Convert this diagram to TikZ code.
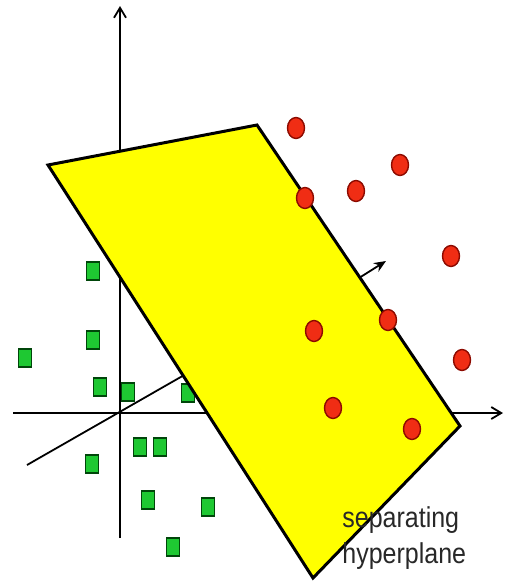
\documentclass[tikz,border=0pt]{standalone}
\usepackage{fontspec}
\setmainfont{Liberation Sans}
\usepackage{graphicx}
\usepackage{tikz}
\usetikzlibrary{arrows.meta, shapes.geometric}

\definecolor{planeyellow}{RGB}{255,255,0}
\definecolor{dotred}{RGB}{240,45,20}
\definecolor{dotrim}{RGB}{140,10,0}
\definecolor{boxgreen}{RGB}{30,200,50}
\definecolor{boxrim}{RGB}{0,70,10}
\definecolor{labelgrey}{RGB}{40,40,40}

\newcommand{\tallword}[1]{\scalebox{1}[1.15]{#1}}

\begin{document}
\begin{tikzpicture}[
  x=0.5pt, y=-0.5pt,
  axis/.style    = {line width=0.9pt, -{Straight Barb[length=5pt, width=6pt]}},
  plane/.style   = {fill=planeyellow, draw=black, line width=1.5pt, line join=miter},
  reddot/.style  = {ellipse, fill=dotred, draw=dotrim, line width=0.7pt,
                    minimum width=8.5pt, minimum height=10.5pt, inner sep=0pt},
  greenbox/.style= {rectangle, fill=boxgreen, draw=boxrim, line width=0.7pt,
                    minimum width=6.5pt, minimum height=9pt, inner sep=0pt},
  normal/.style  = {line width=0.9pt, -{Stealth[length=6pt, width=5pt]}},
  caption/.style = {text=labelgrey, inner sep=0pt, anchor=base west,
                    font=\fontsize{12.5}{15}\selectfont}
]
  \useasboundingbox (0,0) rectangle (504,584);

  %% Axes
  \coordinate (o)     at (120,413);
  \coordinate (ytop)  at (120,6);
  \coordinate (ybot)  at (120,538);
  \coordinate (xleft) at (13,413);
  \coordinate (xright)at (503,413);
  \coordinate (zfar)  at (27,465);
  \coordinate (znear) at (186,374);
  \draw[axis] (ybot) -- (ytop);
  \draw[axis] (xleft) -- (xright);
  \draw[line width=0.9pt] (zfar) -- (znear);

  %% Green class
  \foreach \px/\py [count=\i] in {93/271, 93/340, 25/358, 100/387, 128/392, 188/393,
                                  140/447, 160/447, 92/464, 148/500, 208/507, 173/547}
    \node[greenbox] (g\i) at (\px,\py) {};

  %% Separating plane
  \coordinate (pa) at (48,165);
  \coordinate (pb) at (257,125);
  \coordinate (pc) at (460,426);
  \coordinate (pd) at (313,578);
  \draw[plane] (pa) -- (pb) -- (pc) -- (pd) -- cycle;

  %% Red class
  \foreach \px/\py [count=\i] in {296/128, 400/165, 356/191, 305/198, 451/256,
                                  314/331, 388/320, 462/360, 333/408, 412/429}
    \node[reddot] (r\i) at (\px,\py) {};

  %% Normal vector
  \coordinate (nfoot) at (359,278);
  \coordinate (ntip)  at (386,261);
  \draw[normal] (nfoot) -- (ntip);

  %% Label
  \node[caption] (lbltop) at (342,527) {\tallword{separating}};
  \node[caption] (lblbot) at (342,563) {\tallword{hyperplane}};
\end{tikzpicture}
\end{document}
